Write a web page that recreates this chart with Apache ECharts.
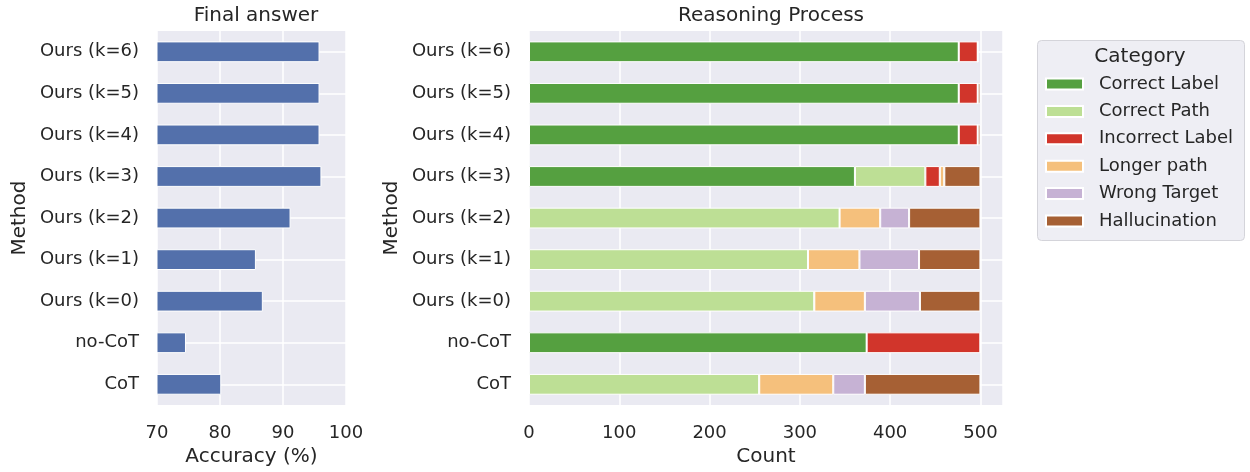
<!DOCTYPE html>
<html>
<head>
<meta charset="utf-8">
<title>Final answer / Reasoning Process</title>
<script src="https://cdn.jsdelivr.net/npm/echarts@6/dist/echarts.min.js"></script>
<style>
  html, body { margin: 0; padding: 0; background: #fff; }
  #chart { width: 1250px; height: 472px; }
</style>
</head>
<body>
<div id="chart"></div>
<script>
// categories, bottom to top (as matplotlib barh draws them)
const methods = ['CoT', 'no-CoT', 'Ours (k=0)', 'Ours (k=1)', 'Ours (k=2)',
                 'Ours (k=3)', 'Ours (k=4)', 'Ours (k=5)', 'Ours (k=6)'];

// left panel: accuracy (%)
const accuracy = [80.2, 74.6, 86.8, 85.7, 91.2, 96.1, 95.8, 95.8, 95.8];

// right panel: counts per category
const categoryNames = ['Correct Label', 'Correct Path', 'Incorrect Label',
                       'Longer path', 'Wrong Target', 'Hallucination'];
const correctLabel   = [0, 374, 0, 0, 0, 361, 476, 476, 476];
const correctPath    = [255, 0, 316, 309, 344, 78, 0, 0, 0];
const incorrectLabel = [0, 126, 0, 0, 0, 16, 21, 21, 21];
const longerPath     = [82, 0, 56, 57, 45, 5, 0, 0, 0];
const wrongTarget    = [35, 0, 61, 66, 32, 0, 0, 0, 0];
const hallucination  = [128, 0, 67, 68, 79, 40, 3, 3, 0];
const countSeries = [correctLabel, correctPath, incorrectLabel, longerPath, wrongTarget, hallucination];
const catColors = ['#55a040', '#bddf95', '#d1352b', '#f5c07c', '#c6b2d4', '#a66034'];

const font = 'DejaVu Sans';
const txt = '#262626';

const chart = echarts.init(document.getElementById('chart'));

function valueAxis(idx, min, max, interval, name) {
  return {
    type: 'value', gridIndex: idx, min: min, max: max, interval: interval,
    name: name, nameLocation: 'middle', nameGap: 39,
    nameTextStyle: { fontFamily: font, fontSize: 20, color: txt },
    axisLine: { show: false }, axisTick: { show: false },
    axisLabel: { fontFamily: font, fontSize: 18, color: txt, margin: 19, showMaxLabel: idx === 0 },
    splitLine: { show: true, lineStyle: { color: '#fff', width: 1.5 } }
  };
}
function catAxis(idx) {
  return {
    type: 'category', gridIndex: idx, data: methods,
    name: 'Method', nameLocation: 'middle', nameGap: 127, nameRotate: 90,
    nameTextStyle: { fontFamily: font, fontSize: 20, color: txt },
    axisLine: { show: false }, axisTick: { show: false },
    axisLabel: { fontFamily: font, fontSize: 18, color: txt, margin: 18 },
    splitLine: { show: true, alignWithLabel: true, lineStyle: { color: '#fff', width: 1.5 } }
  };
}

const series = [{
  type: 'bar', xAxisIndex: 0, yAxisIndex: 0, data: accuracy, barWidth: '50%',
  itemStyle: { color: '#5370ab', borderColor: '#fff', borderWidth: 1 }
}];
countSeries.forEach((d, i) => {
  series.push({
    name: categoryNames[i], type: 'bar', stack: 'count',
    xAxisIndex: 1, yAxisIndex: 1, data: d, barWidth: '50%',
    itemStyle: { color: catColors[i], borderColor: '#fff', borderWidth: 1 }
  });
});

chart.setOption({
  backgroundColor: '#fff',
  animation: false,
  title: [
    { text: 'Final answer', left: 251, top: 1, textAlign: 'center',
      textStyle: { fontFamily: font, fontSize: 20, fontWeight: 'normal', color: txt } },
    { text: 'Reasoning Process', left: 766, top: 1, textAlign: 'center',
      textStyle: { fontFamily: font, fontSize: 20, fontWeight: 'normal', color: txt } }
  ],
  grid: [
    { left: 157, top: 31, width: 189, height: 376, show: true, backgroundColor: '#eaeaf2', borderWidth: 0 },
    { left: 529, top: 31, width: 474, height: 376, show: true, backgroundColor: '#eaeaf2', borderWidth: 0 }
  ],
  xAxis: [valueAxis(0, 70, 100, 10, 'Accuracy (%)'), valueAxis(1, 0, 525, 100, 'Count')],
  yAxis: [catAxis(0), catAxis(1)],
  legend: {
    data: categoryNames, orient: 'vertical', left: 1045, top: 75, padding: 0,
    itemWidth: 37, itemHeight: 11, itemGap: 9.4, icon: 'rect', z: 10,
    textStyle: { fontFamily: font, fontSize: 18, color: txt, lineHeight: 18, padding: [0, 0, 0, 11] }
  },
  graphic: [
    { type: 'rect', shape: { x: 1037.5, y: 40.5, width: 207, height: 200, r: 4 }, z: 1,
      style: { fill: '#eeeef4', stroke: '#d4d4da', lineWidth: 1 } },
    { type: 'text', x: 1140, y: 57, z: 2,
      style: { text: 'Category', font: '20px "DejaVu Sans"', fill: txt, textAlign: 'center', textVerticalAlign: 'middle' } }
  ],
  series: series
});
</script>
</body>
</html>
